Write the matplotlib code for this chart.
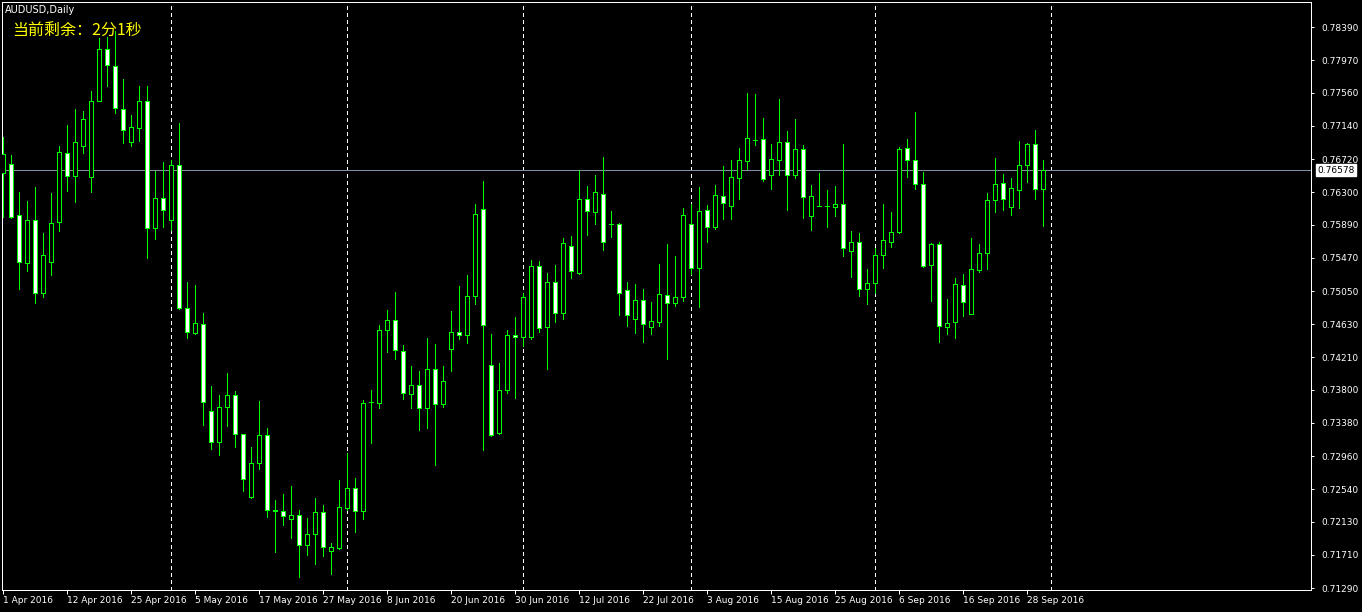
import matplotlib
matplotlib.use("Agg")
import matplotlib.pyplot as plt
from matplotlib.patches import Rectangle
from matplotlib.transforms import blended_transform_factory

# AUDUSD daily, 1 Apr 2016 .. 30 Sep 2016 (weekdays)
opens = [
    0.76543, 0.76657, 0.76012, 0.75404, 0.75949, 0.75025, 0.75417, 0.75924, 0.76797, 0.76505,
    0.76885, 0.76492, 0.77454, 0.78113, 0.77898, 0.77353, 0.76936, 0.77113, 0.77454, 0.75847,
    0.76227, 0.75949, 0.76645, 0.74835, 0.74519, 0.74633, 0.73532, 0.73139, 0.73582, 0.73734,
    0.73240, 0.72443, 0.72873, 0.73228, 0.72279, 0.72266, 0.72165, 0.72215, 0.71835, 0.71975,
    0.72253, 0.71759, 0.71797, 0.72304, 0.72557, 0.72266, 0.73646, 0.73633, 0.74557, 0.74683,
    0.74291, 0.73746, 0.73860, 0.73570, 0.74063, 0.73620, 0.74316, 0.74531, 0.74493, 0.74987,
    0.76088, 0.74114, 0.73253, 0.73797, 0.74493, 0.74468, 0.74468, 0.75366, 0.74595, 0.75164,
    0.74772, 0.75620, 0.75278, 0.76215, 0.76050, 0.76278, 0.75898, 0.75898, 0.75063, 0.74696,
    0.74936, 0.74595, 0.74658, 0.74999, 0.74898, 0.74974, 0.75898, 0.75341, 0.76075, 0.75860,
    0.76253, 0.76126, 0.76480, 0.76695, 0.76961, 0.76974, 0.76518, 0.76708, 0.76936, 0.76518,
    0.76847, 0.75999, 0.76126, 0.76126, 0.76113, 0.76151, 0.75556, 0.75670, 0.75075, 0.75151,
    0.75506, 0.75670, 0.75797, 0.76860, 0.76708, 0.76404, 0.75379, 0.75645, 0.74595, 0.74658,
    0.75126, 0.74759, 0.75316, 0.75531, 0.76202, 0.76417, 0.76113, 0.76328, 0.76645, 0.76910,
    0.76341,
]
highs = [
    0.76999, 0.76772, 0.76303, 0.76189, 0.76366, 0.75784, 0.76290, 0.76885, 0.77151, 0.77353,
    0.77328, 0.77581, 0.78252, 0.78265, 0.78341, 0.77734, 0.77278, 0.77645, 0.77645, 0.76568,
    0.76683, 0.76708, 0.77176, 0.75164, 0.75126, 0.74772, 0.73848, 0.73734, 0.74012, 0.73784,
    0.73245, 0.73076, 0.73658, 0.73316, 0.72405, 0.72481, 0.72582, 0.72279, 0.72177, 0.72430,
    0.72342, 0.71861, 0.72658, 0.73000, 0.72684, 0.73671, 0.73797, 0.74620, 0.74810, 0.75037,
    0.74367, 0.74101, 0.74038, 0.74455, 0.74379, 0.74101, 0.74797, 0.75113, 0.75253, 0.76151,
    0.76442, 0.74506, 0.74139, 0.74557, 0.74721, 0.75025, 0.75442, 0.75430, 0.75278, 0.75379,
    0.75721, 0.75746, 0.76581, 0.76379, 0.76518, 0.76746, 0.76063, 0.75905, 0.75164, 0.75139,
    0.75075, 0.74911, 0.75392, 0.75645, 0.75493, 0.76101, 0.76151, 0.76366, 0.76139, 0.76392,
    0.76632, 0.76708, 0.76860, 0.77556, 0.77543, 0.77240, 0.76910, 0.77480, 0.77075, 0.77227,
    0.76898, 0.76392, 0.76543, 0.76328, 0.76379, 0.76910, 0.75809, 0.75784, 0.75329, 0.75594,
    0.76151, 0.76050, 0.76873, 0.76974, 0.77316, 0.76556, 0.75658, 0.75670, 0.74949, 0.75215,
    0.75265, 0.75721, 0.75645, 0.76290, 0.76734, 0.76531, 0.76480, 0.76948, 0.76923, 0.77088,
    0.76708,
]
lows = [
    0.75986, 0.75974, 0.75075, 0.75303, 0.74898, 0.74974, 0.75253, 0.75809, 0.76315, 0.76177,
    0.76797, 0.76303, 0.77450, 0.77645, 0.77303, 0.76923, 0.76885, 0.76948, 0.75467, 0.75708,
    0.75860, 0.75822, 0.74823, 0.74455, 0.74506, 0.73354, 0.73051, 0.72975, 0.73342, 0.73076,
    0.72519, 0.72430, 0.72797, 0.72190, 0.71747, 0.72089, 0.71924, 0.71431, 0.71709, 0.71595,
    0.71696, 0.71469, 0.71785, 0.72279, 0.72000, 0.72165, 0.73126, 0.73570, 0.74278, 0.74189,
    0.73683, 0.73570, 0.73291, 0.73316, 0.72848, 0.73582, 0.74038, 0.74443, 0.74392, 0.74886,
    0.73038, 0.73220, 0.73240, 0.73759, 0.73696, 0.74354, 0.74443, 0.74531, 0.74063, 0.74658,
    0.74696, 0.75215, 0.75270, 0.75759, 0.75898, 0.75569, 0.75734, 0.74746, 0.74607, 0.74519,
    0.74405, 0.74506, 0.74607, 0.74189, 0.74860, 0.74923, 0.75265, 0.74848, 0.75670, 0.75835,
    0.75961, 0.75961, 0.76215, 0.76594, 0.76898, 0.76442, 0.76341, 0.76518, 0.76075, 0.76480,
    0.75974, 0.75822, 0.76120, 0.75860, 0.75999, 0.75493, 0.75227, 0.74987, 0.74886, 0.75025,
    0.75341, 0.75607, 0.75784, 0.76493, 0.76341, 0.75360, 0.74923, 0.74405, 0.74506, 0.74455,
    0.74734, 0.74755, 0.75291, 0.75329, 0.76050, 0.76075, 0.76012, 0.76101, 0.76430, 0.76215,
    0.75873,
]
closes = [
    0.76784, 0.75986, 0.75417, 0.75949, 0.75025, 0.75506, 0.75911, 0.76810, 0.76505, 0.76936,
    0.77227, 0.77454, 0.78113, 0.77911, 0.77366, 0.77088, 0.77126, 0.77454, 0.75847, 0.76227,
    0.76075, 0.76645, 0.74835, 0.74531, 0.74645, 0.73646, 0.73139, 0.73582, 0.73734, 0.73240,
    0.72671, 0.72873, 0.73228, 0.72279, 0.72266, 0.72203, 0.72215, 0.71835, 0.71975, 0.72253,
    0.71810, 0.71810, 0.72317, 0.72557, 0.72266, 0.73633, 0.73640, 0.74557, 0.74683, 0.74303,
    0.73759, 0.73860, 0.73570, 0.74063, 0.73620, 0.73911, 0.74531, 0.74493, 0.74987, 0.76025,
    0.74620, 0.73228, 0.73797, 0.74493, 0.74468, 0.74974, 0.75366, 0.74582, 0.75164, 0.74772,
    0.75658, 0.75303, 0.76215, 0.76063, 0.76303, 0.75670, 0.75898, 0.75025, 0.74746, 0.74936,
    0.74633, 0.74670, 0.75012, 0.74898, 0.74974, 0.76012, 0.75341, 0.76063, 0.75860, 0.76265,
    0.76164, 0.76493, 0.76708, 0.76987, 0.76958, 0.76468, 0.76721, 0.76936, 0.76518, 0.76847,
    0.76240, 0.76253, 0.76124, 0.76124, 0.76151, 0.75594, 0.75670, 0.75075, 0.75151, 0.75506,
    0.75696, 0.75797, 0.76847, 0.76708, 0.76404, 0.75366, 0.75645, 0.74607, 0.74645, 0.75139,
    0.74911, 0.75329, 0.75531, 0.76202, 0.76404, 0.76215, 0.76354, 0.76645, 0.76910, 0.76341,
    0.76578,
]

# bar index where each new month starts (May..Oct)
month_starts = [21, 43, 65, 86, 109, 131]

date_labels = [
    "1 Apr 2016", "12 Apr 2016", "25 Apr 2016", "5 May 2016", "17 May 2016",
    "27 May 2016", "8 Jun 2016", "20 Jun 2016", "30 Jun 2016", "12 Jul 2016",
    "22 Jul 2016", "3 Aug 2016", "15 Aug 2016", "25 Aug 2016", "6 Sep 2016",
    "16 Sep 2016", "28 Sep 2016",
]
price_ticks = [
    0.78390, 0.77970, 0.77560, 0.77140, 0.76720, 0.76300, 0.75890, 0.75470, 0.75050,
    0.74630, 0.74210, 0.73800, 0.73380, 0.72960, 0.72540, 0.72130, 0.71710, 0.71290,
]
bid = 0.76578

GREEN = "#00ff00"
PX = 0.72  # one pixel in points at dpi 100


def main():
    W, H = 1362, 612
    fig = plt.figure(figsize=(W / 100, H / 100), dpi=100, facecolor="black")
    ax = fig.add_axes([2 / W, (H - 590) / H, (1311 - 2) / W, (590 - 2) / H])
    ax.set_facecolor("black")

    n = len(opens)
    for i in range(n):
        o, h, l, c = opens[i], highs[i], lows[i], closes[i]
        ax.plot([i, i], [l, h], color=GREEN, lw=PX, antialiased=False, zorder=2)
        bull = c > o
        ax.add_patch(Rectangle(
            (i - 0.25, min(o, c)), 0.5, abs(c - o),
            facecolor="black" if bull else "white",
            edgecolor=GREEN, lw=PX, antialiased=False, zorder=3))

    for m in month_starts:
        ax.axvline(m, color="white", lw=PX, ls=(0, (3, 3)), antialiased=False, zorder=1)

    ax.axhline(bid, color="#7f8fa6", lw=PX, antialiased=False, zorder=1)

    ax.set_xlim(-0.16, 163.46)
    ax.set_ylim(0.71266, 0.78708)

    for s in ax.spines.values():
        s.set_color("white")
        s.set_linewidth(PX)

    ax.yaxis.tick_right()
    ax.set_yticks(price_ticks)
    ax.set_yticklabels([f"{v:.5f}" for v in price_ticks])
    ax.tick_params(axis="y", colors="white", labelsize=6.5, length=2.5, width=PX,
                   pad=5, direction="out")

    ax.set_xticks(list(range(0, 8 * len(date_labels), 8)))
    ax.set_xticklabels(date_labels)
    for t in ax.get_xticklabels():
        t.set_ha("left")
    ax.tick_params(axis="x", colors="white", labelsize=6.5, length=3, width=PX, pad=1.5,
                   direction="out")

    # current bid marker on the price scale
    tr = blended_transform_factory(ax.transAxes, ax.transData)
    ax.text(1.0047, bid, f"{bid:.5f}", transform=tr, ha="left", va="center",
            fontsize=6.5, color="black", zorder=5,
            bbox=dict(boxstyle="square,pad=0.15", facecolor="white", edgecolor="white"))

    fig.text(5 / W, 1 - 10 / H, "AUDUSD,Daily", color="white", fontsize=7,
             ha="left", va="center")
    fig.text(12 / W, 1 - 31 / H, "当前剩余：2分1秒", color="#ffff00", fontsize=11.5,
             ha="left", va="center", family=["Noto Sans CJK SC", "DejaVu Sans"])

    fig.savefig("out.png", dpi=100, facecolor="black")


if __name__ == "__main__":
    main()
